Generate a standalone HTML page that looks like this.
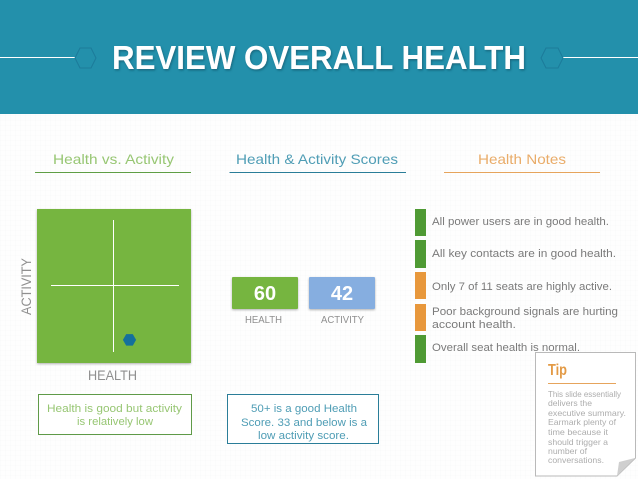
<!DOCTYPE html>
<html>
<head>
<meta charset="utf-8">
<title>Review Overall Health</title>
<style>
html,body{margin:0;padding:0;background:#fff;}
svg{display:block;}
text{font-family:"Liberation Sans",sans-serif;}
</style>
</head>
<body>
<svg id="slide" xmlns="http://www.w3.org/2000/svg" width="638" height="479" viewBox="0 0 638 479">
<defs>
<pattern id="grid" width="5" height="5" patternUnits="userSpaceOnUse"><path d="M5 0H0V5" fill="none" stroke="#f3f5f5" stroke-width="0.6"/></pattern>
<filter id="tshadow" x="-5%" y="-20%" width="110%" height="140%"><feDropShadow dx="1" dy="1.500" stdDeviation="1" flood-color="#0c4f63" flood-opacity="0.6"/></filter>
<filter id="bshadow" x="-5%" y="-5%" width="110%" height="115%"><feDropShadow dx="0" dy="1" stdDeviation="1" flood-color="#000" flood-opacity="0.3"/></filter>
</defs>
<rect width="638" height="479" fill="#fefefe"/>
<rect width="638" height="479" fill="url(#grid)"/>

<g>
<rect width="638" height="114" fill="#2390ab"/>
<line x1="0" y1="57.500" x2="75" y2="57.500" stroke="#fff" stroke-width="1"/>
<line x1="563" y1="57.500" x2="638" y2="57.500" stroke="#fff" stroke-width="1"/>
<polygon points="75,58 80,48 91,48 96,58 91,68 80,68" fill="#2390ab" stroke="#1c7b9a"/>
<polygon points="541,58 546,48 558,48 563,58 558,68 546,68" fill="#2390ab" stroke="#1c7b9a"/>
<text x="112" y="69" font-size="33.500" font-weight="bold" fill="#fff" textLength="414" lengthAdjust="spacingAndGlyphs" filter="url(#tshadow)">REVIEW OVERALL HEALTH</text>
</g>

<g font-size="14">
<text x="53" y="164" fill="#97c673" textLength="121" lengthAdjust="spacingAndGlyphs">Health vs. Activity</text>
<line x1="35" y1="172.500" x2="191" y2="172.500" stroke="#5f9e45" stroke-width="1"/>
<text x="236" y="164" fill="#4f9db5" textLength="162" lengthAdjust="spacingAndGlyphs">Health &amp; Activity Scores</text>
<line x1="229.500" y1="172.500" x2="406" y2="172.500" stroke="#2a7d98" stroke-width="1"/>
<text x="478" y="164" fill="#e9ac69" textLength="88" lengthAdjust="spacingAndGlyphs">Health Notes</text>
<line x1="444" y1="172.500" x2="600" y2="172.500" stroke="#e6a45c" stroke-width="1"/>
</g>

<g id="chart">
<rect x="37" y="209" width="154" height="154" fill="#76b53f" filter="url(#bshadow)"/>
<line x1="51" y1="285.500" x2="179" y2="285.500" stroke="#fff" stroke-width="1"/>
<line x1="113.500" y1="220" x2="113.500" y2="352" stroke="#fff" stroke-width="1"/>
<text x="88" y="380" font-size="13.500" fill="#8f8f8f" textLength="49" lengthAdjust="spacingAndGlyphs">HEALTH</text>
<text transform="translate(31,315) rotate(-90)" font-size="13.500" fill="#8f8f8f" textLength="57" lengthAdjust="spacingAndGlyphs">ACTIVITY</text>
</g>

<g>
<rect x="38.500" y="394.500" width="153" height="40" fill="#fff" stroke="#5f9a48" stroke-width="1"/>
<text x="47" y="412" font-size="11" fill="#97c673" textLength="135" lengthAdjust="spacingAndGlyphs">Health is good but activity</text>
<text x="77" y="425" font-size="11" fill="#97c673" textLength="76" lengthAdjust="spacingAndGlyphs">is relatively low</text>
</g>

<g id="scores"></g>

<g>
<rect x="227.500" y="394.500" width="151" height="49" fill="#fff" stroke="#2a7d98" stroke-width="1"/>
<text x="251" y="412" font-size="11" fill="#4f9db5" textLength="106" lengthAdjust="spacingAndGlyphs">50+ is a good Health</text>
<text x="241" y="426" font-size="11" fill="#4f9db5" textLength="126" lengthAdjust="spacingAndGlyphs">Score. 33 and below is a</text>
<text x="258" y="439" font-size="11" fill="#4f9db5" textLength="91" lengthAdjust="spacingAndGlyphs">low activity score.</text>
</g>

<g font-size="11" fill="#7a7a7a">
<rect x="415" y="209" width="11" height="27" fill="#4f9a34"/>
<rect x="415" y="240" width="11" height="28" fill="#4f9a34"/>
<rect x="415" y="272" width="11" height="27" fill="#e8983c"/>
<rect x="415" y="304" width="11" height="27" fill="#e8983c"/>
<rect x="415" y="335" width="11" height="28" fill="#4f9a34"/>
<text x="432" y="225" textLength="177" lengthAdjust="spacingAndGlyphs">All power users are in good health.</text>
<text x="432" y="257" textLength="184" lengthAdjust="spacingAndGlyphs">All key contacts are in good health.</text>
<text x="432" y="290" textLength="180" lengthAdjust="spacingAndGlyphs">Only 7 of 11 seats are highly active.</text>
<text x="432" y="315" textLength="186" lengthAdjust="spacingAndGlyphs">Poor background signals are hurting</text>
<text x="432" y="328" textLength="84" lengthAdjust="spacingAndGlyphs">account health.</text>
<text x="432" y="351" textLength="148" lengthAdjust="spacingAndGlyphs">Overall seat health is normal.</text>
</g>

<g>
<polygon points="535.500,352.500 635.500,352.500 635.500,458 617,476 535.500,476" fill="#fff" stroke="#b9b9b9" stroke-width="1"/>
<polygon points="635,458 617,476 619,462" fill="#cfcfcf"/>
<text x="548" y="375" font-size="15.500" font-weight="bold" fill="#e39a45" textLength="19" lengthAdjust="spacingAndGlyphs">Tip</text>
<line x1="548" y1="383.500" x2="616" y2="383.500" stroke="#e6a45c" stroke-width="1"/>
<g font-size="8.300" fill="#adadad">
<text x="548" y="397" textLength="73" lengthAdjust="spacingAndGlyphs">This slide essentially</text>
<text x="548" y="406" textLength="44" lengthAdjust="spacingAndGlyphs">delivers the</text>
<text x="548" y="416" textLength="78" lengthAdjust="spacingAndGlyphs">executive summary.</text>
<text x="548" y="425" textLength="68" lengthAdjust="spacingAndGlyphs">Earmark plenty of</text>
<text x="548" y="435" textLength="60" lengthAdjust="spacingAndGlyphs">time because it</text>
<text x="548" y="445" textLength="60" lengthAdjust="spacingAndGlyphs">should trigger a</text>
<text x="548" y="454" textLength="39" lengthAdjust="spacingAndGlyphs">number of</text>
<text x="548" y="463" textLength="56" lengthAdjust="spacingAndGlyphs">conversations.</text>
</g>
</g>
</svg>
<script>
var pointHealth = [60];
var pointActivity = [16];
var scoreLabels = ['HEALTH', 'ACTIVITY'];
var scoreValues = [60, 42];

var NS = 'http://www.w3.org/2000/svg';
function xScale(v) { return 113.5 + (v - 50) * 1.6; }
function yScale(v) { return 285.5 - (v - 50) * 1.6; }

var chart = document.getElementById('chart');
pointHealth.forEach(function (h, i) {
  var cx = xScale(h), cy = yScale(pointActivity[i]), r = 6.6, pts = [];
  for (var k = 0; k < 6; k++) {
    var a = Math.PI * k / 3;
    pts.push((cx + r * Math.cos(a)).toFixed(2) + ',' + (cy + r * Math.sin(a)).toFixed(2));
  }
  var dot = document.createElementNS(NS, 'polygon');
  dot.setAttribute('points', pts.join(' '));
  dot.setAttribute('fill', '#14709c');
  
  
  chart.appendChild(dot);
});

var tileX = [232, 309];
var tileFill = ['#76b53f', '#86aee0'];
var labelX = [245, 321];
var labelW = [37, 43];
var scoreGroup = document.getElementById('scores');
scoreValues.forEach(function (v, i) {
  var rect = document.createElementNS(NS, 'rect');
  rect.setAttribute('x', tileX[i]);
  rect.setAttribute('y', 277);
  rect.setAttribute('width', 66);
  rect.setAttribute('height', 32);
  rect.setAttribute('rx', 1);
  rect.setAttribute('fill', tileFill[i]);
  rect.setAttribute('filter', 'url(#bshadow)');
  
  
  scoreGroup.appendChild(rect);

  var num = document.createElementNS(NS, 'text');
  num.setAttribute('x', tileX[i] + 33);
  num.setAttribute('y', 300);
  num.setAttribute('text-anchor', 'middle');
  num.setAttribute('font-size', '20');
  num.setAttribute('font-weight', 'bold');
  num.setAttribute('fill', '#fff');
  
  
  num.textContent = v;
  scoreGroup.appendChild(num);

  var lab = document.createElementNS(NS, 'text');
  lab.setAttribute('x', labelX[i]);
  lab.setAttribute('y', 323);
  lab.setAttribute('font-size', '10.5');
  lab.setAttribute('fill', '#8f8f8f');
  lab.setAttribute('textLength', labelW[i]);
  lab.setAttribute('lengthAdjust', 'spacingAndGlyphs');
  
  
  lab.textContent = scoreLabels[i];
  scoreGroup.appendChild(lab);
});
</script>
</body>
</html>
